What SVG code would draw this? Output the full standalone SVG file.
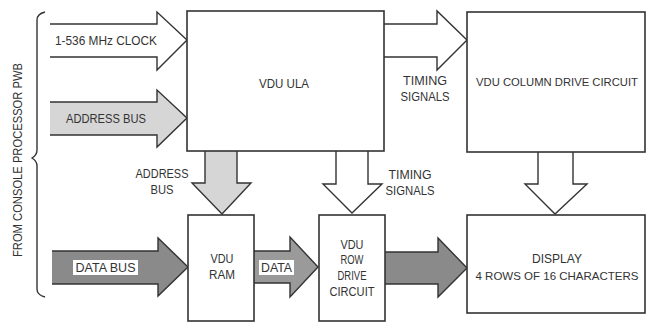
<svg xmlns="http://www.w3.org/2000/svg" width="653" height="323" viewBox="0 0 653 323">
<style>
.box{fill:#fff;stroke:#333;stroke-width:1.6}
.arr{stroke:#333;stroke-width:1.4;stroke-linejoin:miter}
.w{fill:#fff}
.lg{fill:#d6d6d6}
.mg{fill:#9a9a9a}
.dg{fill:#8a8a8a}
text{font-family:"Liberation Sans",Arial,sans-serif;font-size:12.5px;fill:#333;text-anchor:middle;dominant-baseline:central}
text.sm{font-size:11.5px}
.lbl{fill:#fff}
</style>
<rect width="653" height="323" fill="#fff"/>
<g id="connectors">
  <path class="arr w" d="M50,24 H157 V12 L187,40 L157,70 V57 H50"/>
  <path class="arr lg" d="M50,102 H157 V90 L187,118 L157,147 V135 H50"/>
  <path class="arr dg" d="M52,251 H158 V238 L188,267 L158,296 V284 H52"/>
  <path class="arr w" d="M384,24 H437 V11 L467,40 L437,70 V57 H384"/>
  <path class="arr lg" d="M205,151 V183 H192 L222,214 L251,183 H237 V151"/>
  <path class="arr w" d="M336,151 V184 H323 L352,213 L382,184 H368 V151"/>
  <path class="arr w" d="M538,152 V184 H525 L555,214 L587,184 H573 V152"/>
  <path class="arr mg" d="M254,251 H290 V237 L318,267 L290,297 V283 H254"/>
  <path class="arr dg" d="M385,252 H438 V238 L467,268 L438,297 V284 H385"/>
  <path d="M45,12 Q37,14 37,20 V150 Q37,155 32,158 Q37,161 37,166 V289 Q37,295 45,297" fill="none" stroke="#333" stroke-width="1.4"/>
</g>
<g id="labels">
  <text x="106" y="41" textLength="102" lengthAdjust="spacingAndGlyphs">1-536 MHz CLOCK</text>
  <text x="106" y="119" textLength="80" lengthAdjust="spacingAndGlyphs">ADDRESS BUS</text>
  <rect x="73" y="260" width="65" height="15" class="lbl"/>
  <text x="105.5" y="268" textLength="60" lengthAdjust="spacingAndGlyphs">DATA BUS</text>
  <rect x="259" y="260" width="35" height="15" class="lbl"/>
  <text x="276.5" y="268" textLength="31" lengthAdjust="spacingAndGlyphs">DATA</text>
  <text x="162" y="174" textLength="53" lengthAdjust="spacingAndGlyphs">ADDRESS</text>
  <text x="162" y="190" textLength="23" lengthAdjust="spacingAndGlyphs">BUS</text>
  <text x="410" y="175" textLength="43" lengthAdjust="spacingAndGlyphs">TIMING</text>
  <text x="410" y="191" textLength="49" lengthAdjust="spacingAndGlyphs">SIGNALS</text>
  <text x="425" y="81" textLength="44" lengthAdjust="spacingAndGlyphs">TIMING</text>
  <text x="425" y="97" textLength="49" lengthAdjust="spacingAndGlyphs">SIGNALS</text>
  <text transform="translate(18,160) rotate(-90)" textLength="194" lengthAdjust="spacingAndGlyphs">FROM CONSOLE PROCESSOR PWB</text>
</g>
<g id="ula">
  <rect class="box" x="187" y="11" width="197" height="140"/>
  <text x="284" y="84" textLength="50" lengthAdjust="spacingAndGlyphs">VDU  ULA</text>
</g>
<g id="column">
  <rect class="box" x="467" y="12" width="178" height="140"/>
  <text class="sm" x="557" y="82" textLength="162" lengthAdjust="spacingAndGlyphs">VDU COLUMN DRIVE CIRCUIT</text>
</g>
<g id="ram">
  <rect class="box" x="188" y="215" width="66" height="106"/>
  <text x="222" y="259" textLength="23" lengthAdjust="spacingAndGlyphs">VDU</text>
  <text x="222" y="275" textLength="26" lengthAdjust="spacingAndGlyphs">RAM</text>
</g>
<g id="row">
  <rect class="box" x="319" y="215" width="66" height="106"/>
  <text x="352" y="245" textLength="23" lengthAdjust="spacingAndGlyphs">VDU</text>
  <text x="352" y="260" textLength="23" lengthAdjust="spacingAndGlyphs">ROW</text>
  <text x="352" y="276" textLength="29" lengthAdjust="spacingAndGlyphs">DRIVE</text>
  <text x="352" y="292" textLength="45" lengthAdjust="spacingAndGlyphs">CIRCUIT</text>
</g>
<g id="display">
  <rect class="box" x="467" y="215" width="178" height="98"/>
  <text x="557" y="259" textLength="50" lengthAdjust="spacingAndGlyphs">DISPLAY</text>
  <text class="sm" x="557" y="276" textLength="163" lengthAdjust="spacingAndGlyphs">4 ROWS OF 16 CHARACTERS</text>
</g>
</svg>
